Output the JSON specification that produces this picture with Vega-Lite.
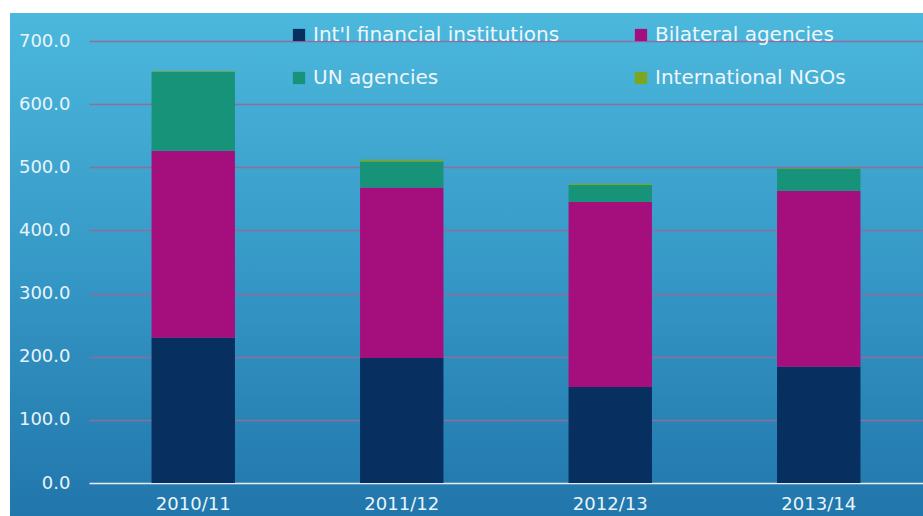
{
  "$schema": "https://vega.github.io/schema/vega-lite/v6.json",
  "autosize": {"type": "none"},
  "width": 913,
  "height": 503,
  "padding": {"left": 10, "top": 13, "right": 0, "bottom": 0},
  "background": "white",
  "view": {
    "stroke": null,
    "fill": {
      "gradient": "linear",
      "x1": 0, "y1": 0, "x2": 0, "y2": 1,
      "stops": [
        {"offset": 0, "color": "#4cb8dc"},
        {"offset": 0.5, "color": "#3699c7"},
        {"offset": 1, "color": "#2176ab"}
      ]
    }
  },
  "config": {"font": "DejaVu Sans"},
  "data": {
    "values": [
      {"year": "2010/11", "series": "Int'l financial institutions", "value": 230},
      {"year": "2010/11", "series": "Bilateral agencies", "value": 296},
      {"year": "2010/11", "series": "UN agencies", "value": 125},
      {"year": "2010/11", "series": "International NGOs", "value": 1},
      {"year": "2011/12", "series": "Int'l financial institutions", "value": 198},
      {"year": "2011/12", "series": "Bilateral agencies", "value": 270},
      {"year": "2011/12", "series": "UN agencies", "value": 41},
      {"year": "2011/12", "series": "International NGOs", "value": 3},
      {"year": "2012/13", "series": "Int'l financial institutions", "value": 152},
      {"year": "2012/13", "series": "Bilateral agencies", "value": 293},
      {"year": "2012/13", "series": "UN agencies", "value": 27},
      {"year": "2012/13", "series": "International NGOs", "value": 2},
      {"year": "2013/14", "series": "Int'l financial institutions", "value": 184},
      {"year": "2013/14", "series": "Bilateral agencies", "value": 279},
      {"year": "2013/14", "series": "UN agencies", "value": 35},
      {"year": "2013/14", "series": "International NGOs", "value": 1}
    ]
  },
  "transform": [
    {"calculate": "indexof([\"Int'l financial institutions\", \"Bilateral agencies\", \"UN agencies\", \"International NGOs\"], datum.series)", "as": "k"}
  ],
  "mark": {"type": "bar"},
  "encoding": {
    "x": {
      "field": "year",
      "type": "nominal",
      "scale": {"range": [79, 913], "paddingInner": 0.6, "paddingOuter": 0.3},
      "axis": {
        "title": null,
        "labelAngle": 0,
        "offset": -33,
        "ticks": false,
        "grid": false,
        "domainColor": "#d8eef8",
        "domainWidth": 1.5,
        "labelColor": "#e8f4fa",
        "labelFontSize": 18,
        "labelPadding": 12
      }
    },
    "y": {
      "field": "value",
      "type": "quantitative",
      "stack": "zero",
      "scale": {"domain": [0, 700], "range": [470, 28], "nice": false},
      "axis": {
        "title": null,
        "offset": -79,
        "values": [0, 100, 200, 300, 400, 500, 600, 700],
        "format": ".1f",
        "domain": false,
        "ticks": false,
        "labelColor": "#e8f4fa",
        "labelFontSize": 18,
        "labelPadding": 19,
        "gridColor": "#96699c",
        "gridOpacity": 0.95,
        "gridWidth": 1.3
      }
    },
    "color": {
      "field": "series",
      "type": "nominal",
      "scale": {
        "domain": ["Int'l financial institutions", "Bilateral agencies", "UN agencies", "International NGOs"],
        "range": ["#072f5f", "#a50f7d", "#17937a", "#7ba61e"]
      },
      "legend": {
        "title": null,
        "orient": "none",
        "legendX": 279,
        "legendY": 12,
        "direction": "horizontal",
        "columns": 2,
        "symbolType": "square",
        "symbolSize": 150,
        "symbolStrokeWidth": 0,
        "symbolOpacity": 1,
        "labelFontSize": 20,
        "labelColor": "#eef6fa",
        "labelOffset": 4,
        "labelLimit": 400,
        "columnPadding": 71,
        "rowPadding": 23
      }
    },
    "order": {"field": "k", "type": "quantitative"}
  }
}
